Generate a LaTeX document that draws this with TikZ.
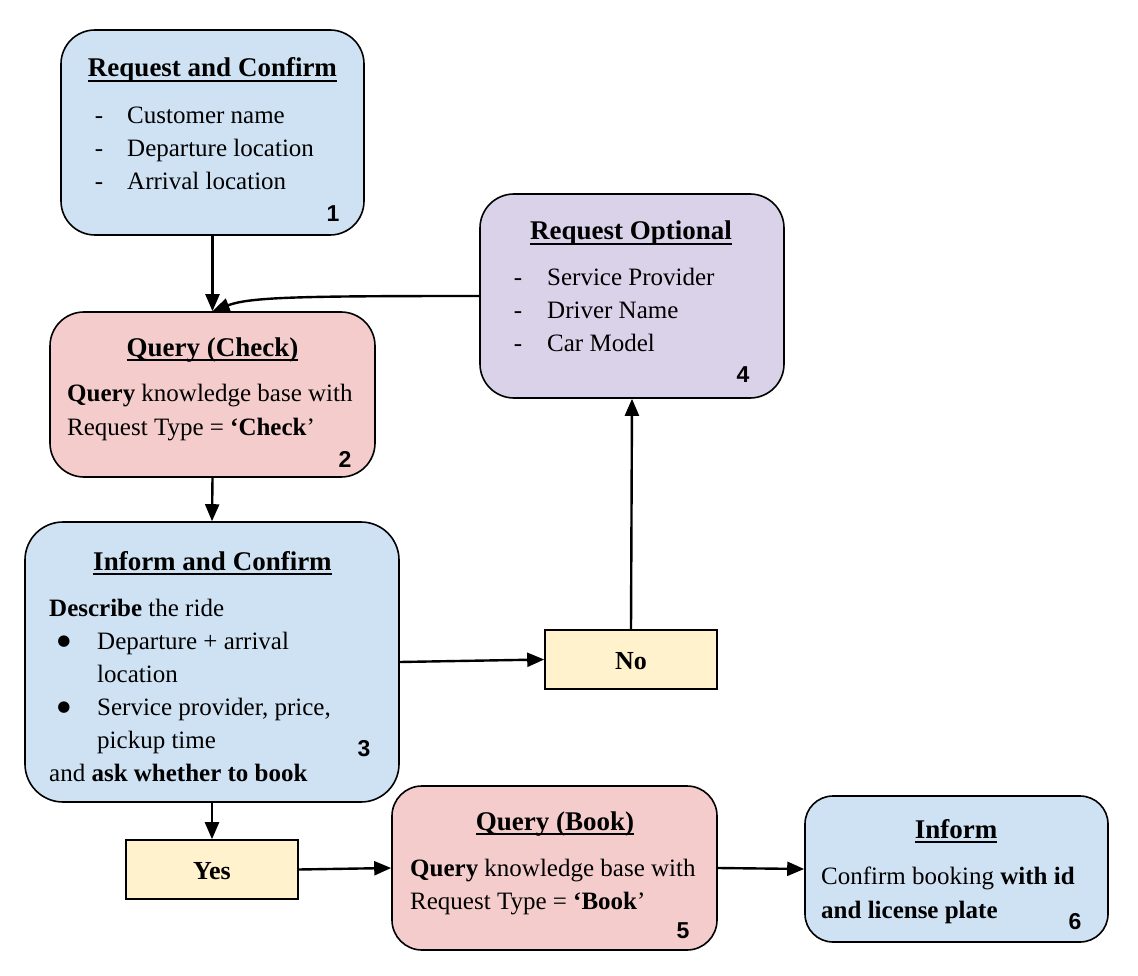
\documentclass[tikz,border=0pt]{standalone}
\usepackage{fontspec}
\setmainfont{Liberation Serif}
\newfontfamily\numfont{Liberation Sans}
\newfontfamily\symfont{DejaVu Sans}
\usetikzlibrary{arrows.meta}
\newcommand{\ttlul}[1]{\setbox0\hbox{#1}\rlap{\rule[-5pt]{\wd0}{1.8pt}}\box0}
\definecolor{cblue}{HTML}{CFE2F3}
\definecolor{cpink}{HTML}{F4CCCC}
\definecolor{cpurple}{HTML}{D9D2E9}
\definecolor{cyel}{HTML}{FFF2CC}
\tikzset{
  box/.style={draw, line width=1.6pt, rounded corners=34pt, inner sep=0pt},
  tagbox/.style={draw, line width=1.6pt, inner sep=0pt, fill=cyel},
  txt/.style={anchor=base west, inner sep=0pt, font=\fontsize{25}{30}\selectfont},
  ttl/.style={anchor=base, inner sep=0pt, font=\fontsize{27}{32}\selectfont\bfseries},
  num/.style={anchor=base, inner sep=0pt, font=\fontsize{23}{26}\selectfont\numfont\bfseries},
  dsh/.style={anchor=base, inner sep=0pt, font=\fontsize{25}{30}\selectfont},
  bul/.style={anchor=center, inner sep=0pt, font=\fontsize{15}{18}\selectfont\symfont},
  arr/.style={line width=2.4pt, -{Triangle[length=17pt,width=14pt]}}
}
\begin{document}
\begin{tikzpicture}[x=1pt,y=-1pt]
\useasboundingbox (0,0) rectangle (1138,976);
% boxes
\node[box, fill=cblue, minimum width=303pt, minimum height=205pt] (b1) at (212.5,132.5) {};
\node[box, fill=cpink, minimum width=325pt, minimum height=165pt] (b2) at (212.5,394.5) {};
\node[box, fill=cblue, minimum width=374pt, minimum height=280pt, rounded corners=38pt] (b3) at (212,662) {};
\node[box, fill=cpurple, minimum width=304pt, minimum height=204pt] (b4) at (632,296) {};
\node[tagbox, minimum width=172pt, minimum height=59pt] (no) at (631,659.5) {};
\node[tagbox, minimum width=172pt, minimum height=59pt] (yes) at (212,869.5) {};
\node[box, fill=cpink, minimum width=325pt, minimum height=164pt, rounded corners=30pt] (b5) at (554.5,868) {};
\node[box, fill=cblue, minimum width=303pt, minimum height=146pt, rounded corners=28pt] (b6) at (956.5,869) {};
% box 1
\node[ttl] (t1) at (212.5,77) {\ttlul{Request and Confirm}};
\node[dsh] (d1a) at (99,124) {-};
\node[dsh] (d1b) at (99,157) {-};
\node[dsh] (d1c) at (99,190) {-};
\node[txt] (l1a) at (127,124) {Customer name};
\node[txt] (l1b) at (127,157) {Departure location};
\node[txt] (l1c) at (127,190) {Arrival location};
\node[num] (n1) at (333,222) {1};
% box 2
\node[ttl] (t2) at (212.5,356) {\ttlul{Query (Check)}};
\node[txt] (l2a) at (67,401) {\textbf{Query} knowledge base with};
\node[txt] (l2b) at (67,435) {Request Type = \textbf{‘Check}’};
\node[num] (n2) at (345,467) {2};
% box 3
\node[ttl] (t3) at (212.5,570) {\ttlul{Inform and Confirm}};
\node[bul] (p3a) at (64,642) {●};
\node[bul] (p3b) at (64,708) {●};
\node[txt] (l3a) at (49,616) {\textbf{Describe} the ride};
\node[txt] (l3b) at (97,649) {Departure + arrival};
\node[txt] (l3c) at (97,682) {location};
\node[txt] (l3d) at (97,715) {Service provider, price,};
\node[txt] (l3e) at (97,748) {pickup time};
\node[txt] (l3f) at (49,781) {and \textbf{ask whether to book}};
\node[num] (n3) at (364,756) {3};
% box 4
\node[ttl] (t4) at (631,240) {\ttlul{Request Optional}};
\node[dsh] (d4a) at (518,286) {-};
\node[dsh] (d4b) at (518,319) {-};
\node[dsh] (d4c) at (518,352) {-};
\node[txt] (l4a) at (547,286) {Service Provider};
\node[txt] (l4b) at (547,319) {Driver Name};
\node[txt] (l4c) at (547,352) {Car Model};
\node[num] (n4) at (743,382) {4};
% no / yes
\node[ttl, font=\fontsize{26}{30}\selectfont\bfseries] (tno) at (631,669) {No};
\node[ttl, font=\fontsize{26}{30}\selectfont\bfseries] (tyes) at (212,879) {Yes};
% box 5
\node[ttl] (t5) at (555,830) {\ttlul{Query (Book)}};
\node[txt] (l5a) at (410,876) {\textbf{Query} knowledge base with};
\node[txt] (l5b) at (410,909) {Request Type = \textbf{‘Book}’};
\node[num] (n5) at (683,938) {5};
% box 6
\node[ttl] (t6) at (956,838) {\ttlul{Inform}};
\node[txt] (l6a) at (821,884) {Confirm booking \textbf{with id}};
\node[txt] (l6b) at (821,918) {\textbf{and license plate}};
\node[num] (n6) at (1075,929) {6};
% connectors
\draw[arr] (b1.south) -- (b2.north);
\draw[arr] (b4.west) .. controls (300,296) and (250,297) .. (b2.north);
\draw[arr] (b2.south) -- (b3.north);
\draw[arr] (b3.east) -- (no.west);
\draw[arr] (no.north) -- (b4.south);
\draw[arr] (b3.south) -- (yes.north);
\draw[arr] (yes.east) -- (b5.west);
\draw[arr] (b5.east) -- (b6.west);
\end{tikzpicture}
\end{document}
